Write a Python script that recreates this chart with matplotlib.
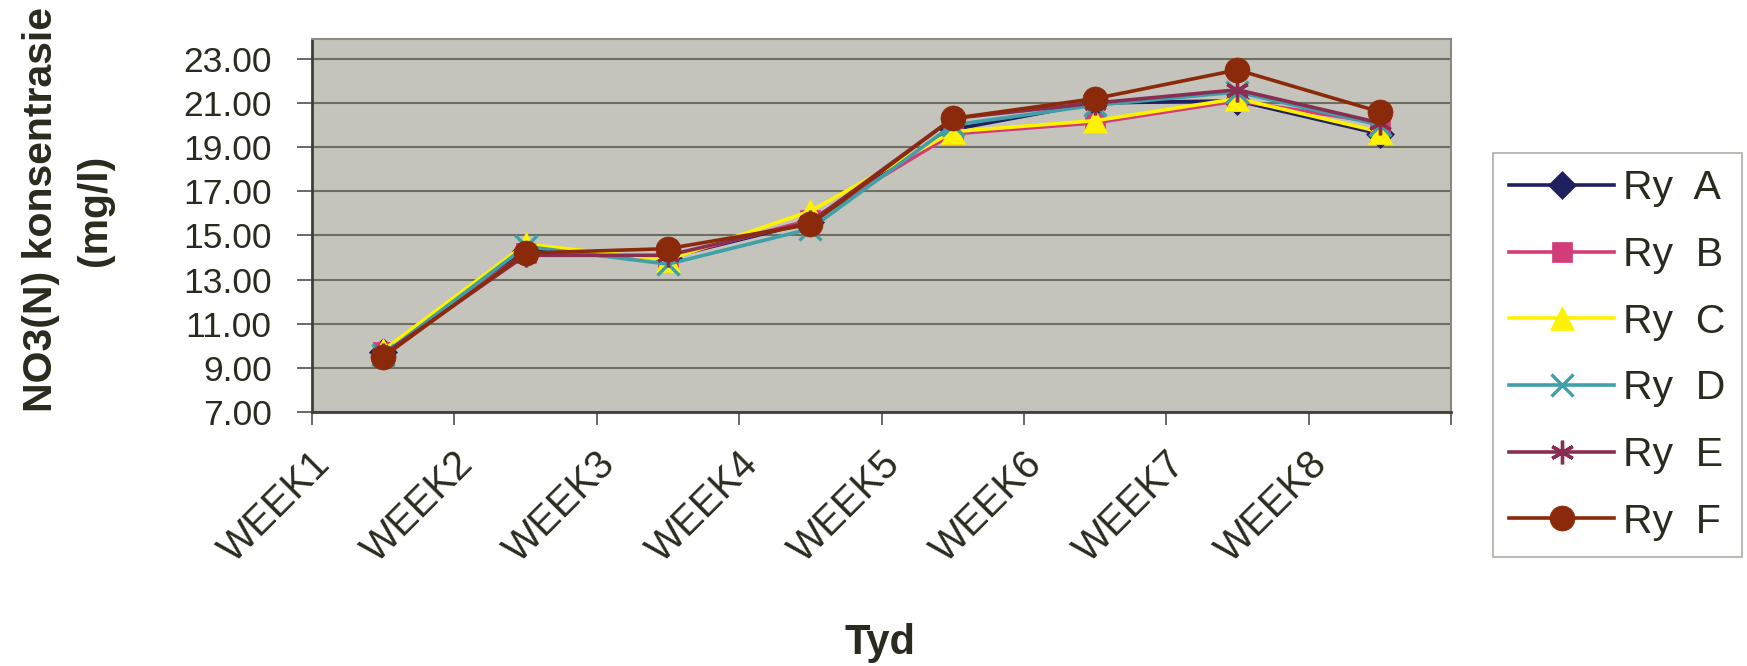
import numpy as np
import matplotlib
matplotlib.use("Agg")
import matplotlib.pyplot as plt
from matplotlib.transforms import offset_copy

plt.rcParams["font.family"] = ["Liberation Sans", "DejaVu Sans"]

WEEKS = ["WEEK1", "WEEK2", "WEEK3", "WEEK4", "WEEK5", "WEEK6", "WEEK7", "WEEK8"]
RY_A = [9.7, 14.3, 14.0, 15.6, 19.8, 21.0, 21.1, 19.6]
RY_B = [9.7, 14.2, 14.0, 15.7, 19.6, 20.1, 21.1, 20.1]
RY_C = [9.8, 14.6, 13.9, 16.1, 19.7, 20.2, 21.2, 19.7]
RY_D = [9.6, 14.5, 13.7, 15.3, 20.0, 20.9, 21.5, 20.0]
RY_E = [9.6, 14.1, 14.1, 15.6, 20.3, 21.0, 21.6, 20.1]
RY_F = [9.5, 14.2, 14.4, 15.5, 20.3, 21.2, 22.5, 20.6]

SERIES = [
    ("Ry  A", RY_A, "#20205e", "D", 14),
    ("Ry  B", RY_B, "#d23c78", "s", 14),
    ("Ry  C", RY_C, "#fff200", "^", 17),
    ("Ry  D", RY_D, "#40a0a8", "x", 16),
    ("Ry  E", RY_E, "#8a2d52", (6, 2, 0), 17),
    ("Ry  F", RY_F, "#8b2a0a", "o", 18),
]
TXT = "#2a2a1e"

fig = plt.figure(figsize=(17.47, 6.66), dpi=100)
ax = fig.add_axes([312 / 1747, 1 - 412 / 666, (1451 - 312) / 1747, (412 - 39) / 666])
ax.set_facecolor("#c4c4bc")

x = np.arange(len(WEEKS))
for label, vals, color, mk, ms in SERIES:
    ax.plot(x, vals, color=color, lw=2.6, marker=mk, markersize=ms,
            markeredgewidth=2.4 if mk in ("x", (6, 2, 0)) else 0.5,
            markeredgecolor=color, label=label, zorder=3)

ax.set_xlim(-0.5, len(WEEKS) - 0.5)
ax.set_ylim(7, 23.9)
ax.set_yticks(np.arange(7, 24, 2))
ax.set_yticklabels([f"{v:.2f}" for v in np.arange(7, 24, 2)], fontsize=25.5, color=TXT)
ax.yaxis.grid(True, color="#6e6e60", lw=1.5, zorder=1)
ax.set_xticks(np.arange(-0.5, len(WEEKS), 1))
ax.set_xticklabels([])
ax.tick_params(axis="y", length=11, width=1.2, color="#50504a", pad=18)
ax.tick_params(axis="x", length=9, width=1.2, color="#50504a")
for s in ("left", "bottom"):
    ax.spines[s].set_color("#40403a")
    ax.spines[s].set_linewidth(2)
for s in ("top", "right"):
    ax.spines[s].set_color("#8a8a80")
    ax.spines[s].set_linewidth(1.5)

# rotated category labels (Excel style, ending just left of the category centre)
trans = offset_copy(ax.get_xaxis_transform(), fig=fig, x=-72, y=-33, units="dots")
for xi, lab in zip(x, WEEKS):
    ax.text(xi, 0, lab, transform=trans, rotation=45, rotation_mode="anchor",
            ha="right", va="top", fontsize=28.5, color=TXT)

fig.text(68 / 1747, 1 - 210 / 666, "NO3(N) konsentrasie\n(mg/l)", rotation=90,
         ha="center", va="center", multialignment="center", fontsize=29.5,
         fontweight="bold", color=TXT, linespacing=1.5)
fig.text(880 / 1747, 1 - 643 / 666, "Tyd", ha="center", va="center", fontsize=30,
         fontweight="bold", color=TXT)

leg = fig.legend(loc="upper left", bbox_to_anchor=(1493 / 1747, 1 - 153 / 666),
                 fontsize=29.5, frameon=True, fancybox=False, handlelength=2.55,
                 handletextpad=0.22, labelspacing=0.7, borderpad=0.4,
                 borderaxespad=0)
leg.get_frame().set_edgecolor("#9a9a90")
leg.get_frame().set_linewidth(1.2)
for t in leg.get_texts():
    t.set_color(TXT)

fig.savefig("out.png", dpi=100)
